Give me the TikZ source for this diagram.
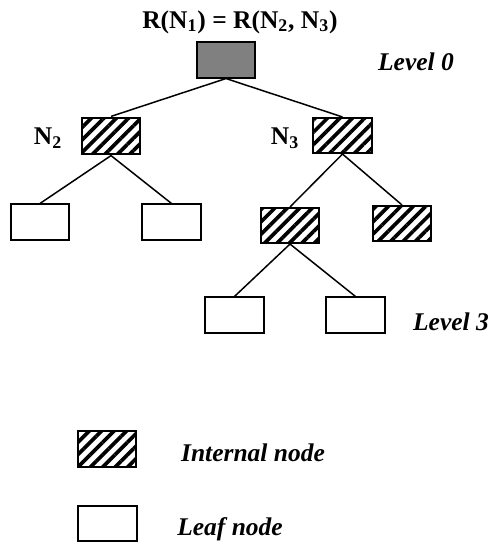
\documentclass[tikz,border=0pt]{standalone}
\usepackage{fontspec}
\setmainfont{Liberation Serif}
\usetikzlibrary{patterns.meta}

\begin{document}
\begin{tikzpicture}[x=0.02cm, y=-0.02cm,
  % 设置方框的style
  % box 是所有方框共用的设置, 后面三种在它上面再加填充
  box/.style={draw, line width=0.9pt, inner sep=0pt,
    minimum width=1.17cm, minimum height=0.71cm},
  rootbox/.style={box, fill=black!50},
  innerbox/.style={box, pattern={Lines[angle=45, distance=5pt, line width=2.1pt]}},
  leafbox/.style={box, fill=white},
  % 连线和文字的style
  edge/.style={line width=0.85pt},
  lab/.style={font=\fontsize{14.5}{17}\selectfont\bfseries},
  itlab/.style={font=\fontsize{14.5}{17}\selectfont\bfseries\itshape}]

  % 固定图的大小
  \useasboundingbox (0,0) rectangle (490,545);

  % 树的方框
  \node[rootbox]  (root) at (226,60) {};
  \node[innerbox] (n2)   at (111,136) {};
  \node[innerbox] (n3)   at (342.5,135.5) {};
  \node[leafbox]  (l1)   at (40,222) {};
  \node[leafbox]  (l2)   at (171.5,222) {};
  \node[innerbox] (n4)   at (290,225.5) {};
  \node[innerbox] (n5)   at (402,223.5) {};
  \node[leafbox]  (l3)   at (234.5,315) {};
  \node[leafbox]  (l4)   at (355.5,315) {};

  % 画连线
  \draw[edge] (root.south) -- (n2.north);
  \draw[edge] (root.south) -- (n3.north);
  \draw[edge] (n2.south) -- (l1.north);
  \draw[edge] (n2.south) -- (l2.north);
  \draw[edge] (n3.south) -- (n4.north);
  \draw[edge] (n3.south) -- (n5.north);
  \draw[edge] (n4.south) -- (l3.north);
  \draw[edge] (n4.south) -- (l4.north);

  % 文字
  \node[lab]   (title)  at (240,22) {R(N\textsubscript{1}) = R(N\textsubscript{2}, N\textsubscript{3})};
  \node[lab]   (n2lab)  at (48,138) {N\textsubscript{2}};
  \node[lab]   (n3lab)  at (285,138) {N\textsubscript{3}};
  \node[itlab] (level0) at (416,62) {Level 0};
  \node[itlab] (level3) at (451,322) {Level 3};

  % 图例
  \node[innerbox] (keyin)   at (107,449) {};
  \node[leafbox]  (keyleaf) at (107.5,523.5) {};
  \node[itlab] (keyintxt)   at (253,453) {Internal node};
  \node[itlab] (keyleaftxt) at (230,529) {Leaf node};

\end{tikzpicture}
\end{document}
